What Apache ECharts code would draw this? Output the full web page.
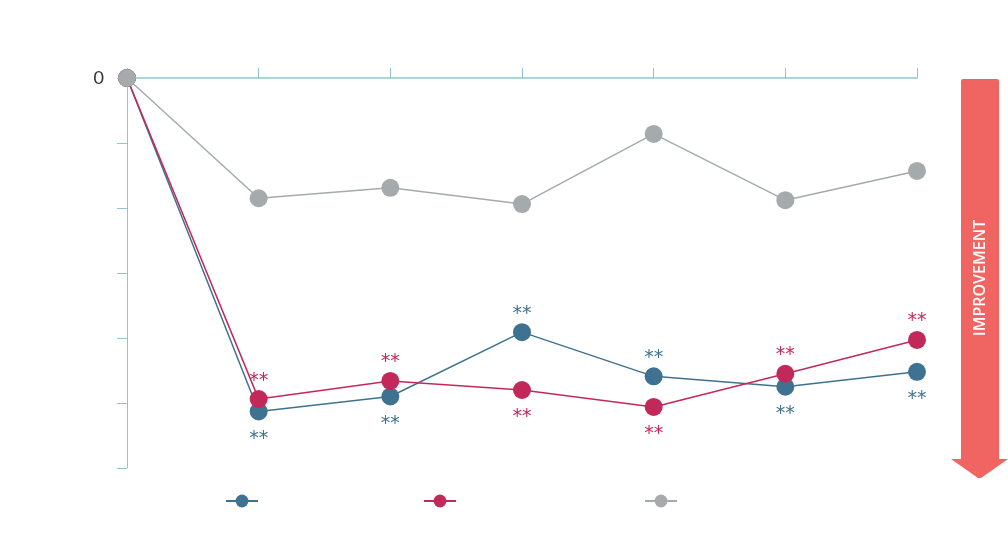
<!DOCTYPE html>
<html>
<head>
<meta charset="utf-8">
<script src="https://cdn.jsdelivr.net/npm/echarts@6/dist/echarts.min.js"></script>
<style>
  html, body { margin: 0; padding: 0; background: #fff; }
  #chart { width: 1008px; height: 549px; }
</style>
</head>
<body>
<div id="chart"></div>
<script>
const categories = ['0', '1', '2', '3', '4', '5', '6']
const blueValues = [0, 5.13, 4.9, 3.91, 4.59, 4.75, 4.52]
const redValues = [0, 4.94, 4.66, 4.8, 5.06, 4.55, 4.03]
const grayValues = [0, 1.85, 1.69, 1.94, 0.86, 1.88, 1.43]
// where the ** marker sits for each point ('' = none)
const blueStars = ['', 'bottom', 'bottom', 'top', 'top', 'bottom', 'bottom']
const redStars = ['', 'top', 'top', 'bottom', 'bottom', 'top', 'top']

const BLUE = '#3f7290'
const RED = '#c2295a'
const GRAY = '#a5aaad'
const AXIS = '#93c6cc'

const withStars = (values, stars, color) => values.map((v, i) => {
  if (!stars[i]) return v
  const top = stars[i] === 'top'
  return {
    value: v,
    label: {
      show: true,
      position: top ? 'top' : 'bottom',
      distance: top ? 0 : 9,
      formatter: '**',
      color: color,
      fontSize: 19,
      fontFamily: 'DejaVu Sans'
    }
  }
})

const lineSeries = (name, data, color, z) => ({
  name: name,
  type: 'line',
  data: data,
  symbol: 'circle',
  symbolSize: 18,
  z: z,
  lineStyle: { color: color, width: 1.5 },
  itemStyle: { color: color },
  emphasis: { disabled: true }
})

const legendAt = (name, center) => ({
  data: [name],
  left: center - 16,
  top: 488,
  itemWidth: 32,
  itemHeight: 16,
  formatter: () => '',
  selectedMode: false
})

const instance = echarts.init(document.getElementById('chart'))
const option = {
  animation: false,
  grid: { left: 127, right: 91, top: 78, bottom: 81 },
  legend: [
    legendAt('blue', 236),
    legendAt('red', 434),
    legendAt('gray', 655)
  ],
  xAxis: {
    type: 'category',
    data: categories,
    position: 'top',
    boundaryGap: false,
    axisLine: { lineStyle: { color: AXIS, width: 1.5 } },
    axisTick: { length: 10, lineStyle: { color: AXIS } },
    axisLabel: { show: false },
    splitLine: { show: false }
  },
  yAxis: {
    type: 'value',
    inverse: true,
    min: 0,
    max: 6,
    interval: 1,
    axisLine: { show: true, lineStyle: { color: AXIS } },
    axisTick: { show: true, length: 10, lineStyle: { color: AXIS } },
    axisLabel: {
      margin: 23,
      fontSize: 18,
      color: '#333',
      fontFamily: 'Lato',
      formatter: (v) => v === 0 ? '0' : ''
    },
    splitLine: { show: false }
  },
  series: [
    lineSeries('blue', withStars(blueValues, blueStars, BLUE), BLUE, 3),
    lineSeries('red', withStars(redValues, redStars, RED), RED, 4),
    lineSeries('gray', grayValues, GRAY, 5)
  ],
  graphic: [
    {
      type: 'rect',
      shape: { x: 961, y: 79, width: 38, height: 381, r: [2, 2, 0, 0] },
      style: { fill: '#f06562' }
    },
    {
      type: 'polygon',
      shape: { points: [[951, 459], [1008, 459], [981, 478], [978, 478]] },
      style: { fill: '#f06562' }
    },
    {
      type: 'text',
      x: 980,
      y: 278,
      rotation: Math.PI / 2,
      style: {
        text: 'IMPROVEMENT',
        fill: '#fff',
        fontSize: 16,
        fontFamily: 'Open Sans',
        fontWeight: 600,
        letterSpacing: 2.4,
        align: 'center',
        verticalAlign: 'middle'
      }
    }
  ]
}
instance.setOption(option)
</script>
</body>
</html>
